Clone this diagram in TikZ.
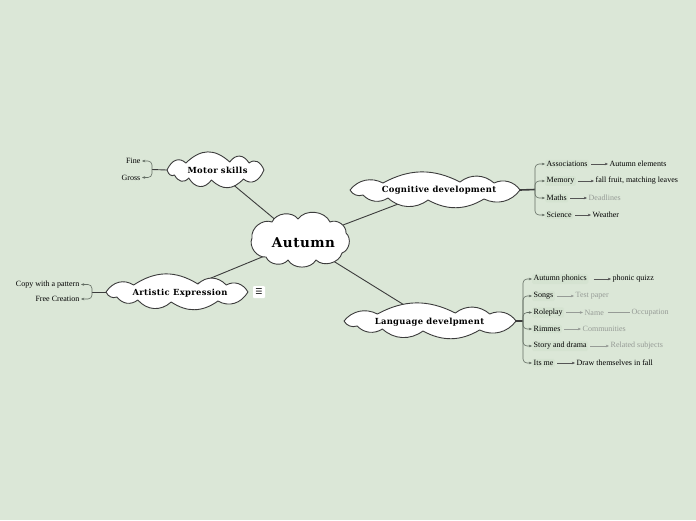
\documentclass[tikz,border=0pt]{standalone}
\usepackage{fontspec}
\setmainfont{Liberation Serif}
\newfontfamily\cloudfont[LetterSpace=4]{DejaVu Serif}
\newfontfamily\symfont{DejaVu Sans}
\usetikzlibrary{shapes.geometric,arrows.meta}
\pgfdeclarelayer{behind}
\pgfsetlayers{behind,main}
\definecolor{bg}{RGB}{219,231,215}
\definecolor{lnk}{RGB}{60,60,60}
\definecolor{arc}{RGB}{85,85,85}
\definecolor{brk}{RGB}{100,110,100}
\definecolor{faint}{RGB}{150,155,150}
\definecolor{boxc}{RGB}{213,227,209}
% elongated cloud outline around (0,0), 170 x 36
\newcommand\longcloud{%
  \path[cloudline] (-85,0) to[bend left=40] (-52,-7) to[bend left=28] (25,-8)
    to[bend left=40] (59,-7) to[bend left=40] (85,0) to[bend left=40] (49,9)
    to[bend left=30] (-7,10) to[bend left=40] (-47,8) to[bend left=40] (-72,5)
    to[bend left=40] (-85,0) -- cycle;}
\begin{document}
\begin{tikzpicture}[x=1pt,y=-1pt,
  cloudline/.style={draw=lnk, fill=white, line width=0.9pt, line join=round},
  ctext/.style={ellipse, inner sep=0pt, font=\cloudfont\bfseries\fontsize{8.4}{10}\selectfont},
  leaf/.style={font=\fontsize{8}{9.5}\selectfont, inner sep=1.5pt, text=black},
  kid/.style={leaf, fill=boxc, rounded corners=1.5pt},
  grey/.style={leaf, text=faint},
  link/.style={draw=lnk, line width=0.9pt},
  hub/.style={draw=lnk, line width=1.6pt},
  brack/.style={draw=brk, line width=0.6pt, rounded corners=4pt, -{Stealth[length=3.2pt,width=2.6pt]}},
  arr/.style={draw=arc, line width=0.45pt, -{Stealth[length=3.2pt,width=2.6pt]}},
  arrg/.style={draw=faint, line width=0.45pt, -{Stealth[length=3.2pt,width=2.6pt]}}]
\begin{pgfonlayer}{behind}
\fill[bg] (0,0) rectangle (696,520);
\end{pgfonlayer}
\useasboundingbox (0,0) rectangle (696,520);

% ---- clouds ----
\path[cloudline] (252,238) to[bend left=60] (272,222) to[bend left=60] (298,219)
  to[bend left=60] (330,222) to[bend left=60] (346,233) to[bend left=60] (342,253)
  to[bend left=60] (316,260) to[bend left=60] (288,260) to[bend left=60] (266,257)
  to[bend left=60] (252,238) -- cycle;
\node[ctext, minimum width=96pt, minimum height=50pt, font=\cloudfont\bfseries\fontsize{13.5}{15}\selectfont] (aut) at (301,241) {};
\node[font=\cloudfont\bfseries\fontsize{13.5}{15}\selectfont, inner sep=0pt] (autlabel) at (303.5,243) {Autumn};

\begin{scope}[shift={(215.5,170)}, xscale=0.57]\longcloud\end{scope}
\node[ctext, minimum width=97pt, minimum height=36pt] (mot) at (215.5,170) {};
\node[ctext] (motlabel) at (217.5,170.5) {Motor skills};

\begin{scope}[shift={(435,190)}]\longcloud\end{scope}
\node[ctext, minimum width=170pt, minimum height=36pt] (cog) at (435,190) {};
\node[ctext] (coglabel) at (439,190.5) {Cognitive development};

\begin{scope}[shift={(430,321)}, xscale=1.012]\longcloud\end{scope}
\node[ctext, minimum width=172pt, minimum height=36pt] (lan) at (430,321) {};
\node[ctext] (lanlabel) at (429.5,322) {Language develpment};

\begin{scope}[shift={(177,292)}, xscale=0.835]\longcloud\end{scope}
\node[ctext, minimum width=142pt, minimum height=36pt] (art) at (177,292) {};
\node[ctext] (artlabel) at (180,293) {Artistic Expression};

\node[fill=white, rounded corners=1pt, minimum size=12pt, inner sep=0pt, font=\symfont\fontsize{8}{8}\selectfont] (menu) at (259,292) {☰};

% ---- main links (behind the clouds) ----
\begin{pgfonlayer}{behind}
\draw[link] (aut.center) -- (mot.center);
\draw[link] (aut.center) -- (cog.center);
\draw[link] (aut.center) -- (lan.center);
\draw[link] (aut.center) -- (art.center);
\end{pgfonlayer}

% ---- Motor skills ----
\coordinate (mh) at (152,169.5);
\node[leaf, anchor=east] (fine) at (142,161) {Fine};
\node[leaf, anchor=east] (gross) at (142,177.5) {Gross};
\draw[link] (mot.west) -- (mh);
\draw[brack] (mh) |- (fine.east);
\draw[brack] (mh) |- (gross.east);

% ---- Artistic ----
\coordinate (ah) at (92,292);
\node[leaf, anchor=east] (copy) at (81,284.5) {Copy with a pattern};
\node[leaf, anchor=east] (free) at (81,299) {Free Creation};
\draw[link] (art.west) -- (ah);
\draw[brack] (ah) |- (copy.east);
\draw[brack] (ah) |- (free.east);

% ---- Cognitive ----
\coordinate (ch) at (535,189.5);
\draw[hub] (cog.east) -- (ch);
\node[kid, anchor=west] (assoc) at (545,164) {Associations};
\node[kid, anchor=west] (mem) at (545,181) {Memory};
\node[kid, anchor=west] (maths) at (545,198) {Maths};
\node[kid, anchor=west] (sci) at (545,215) {Science};
\foreach \c in {assoc,mem,maths,sci} \draw[brack] (ch) |- (\c.west);
\node[leaf, anchor=west] (autel) at (608,164) {Autumn elements};
\node[leaf, anchor=west] (fall) at (594,181) {fall fruit, matching leaves};
\node[grey, anchor=west] (dead) at (587,198) {Deadlines};
\node[leaf, anchor=west] (weat) at (591,215) {Weather};
\draw[arr] ([xshift=2pt]assoc.east) -- (autel.west);
\draw[arr] ([xshift=2pt]mem.east) -- (fall.west);
\draw[arr] ([xshift=2pt]maths.east) -- (dead.west);
\draw[arr] ([xshift=2pt]sci.east) -- (weat.west);

% ---- Language ----
\coordinate (lh) at (523,321);
\draw[hub] (lan.east) -- (lh);
\node[kid, anchor=west] (phon) at (532,279) {Autumn phonics};
\node[kid, anchor=west] (songs) at (532,296) {Songs};
\node[kid, anchor=west] (role) at (532,312.5) {Roleplay};
\node[kid, anchor=west] (rim) at (532,329) {Rimmes};
\node[kid, anchor=west] (story) at (532,346) {Story and drama};
\node[kid, anchor=west] (its) at (532,363) {Its me};
\foreach \c in {phon,songs,role,rim,story,its} \draw[brack] (lh) |- (\c.west);
\node[leaf, anchor=west] (quiz) at (611,279) {phonic quizz};
\node[grey, anchor=west] (test) at (574,296) {Test paper};
\node[grey, anchor=west] (name) at (583,312.5) {Name};
\node[grey, anchor=west] (occ) at (630,312.5) {Occupation};
\node[grey, anchor=west] (comm) at (581,329) {Communities};
\node[grey, anchor=west] (rel) at (609,346) {Related subjects};
\node[leaf, anchor=west] (draw) at (575,363) {Draw themselves in fall};
\draw[arr] ([xshift=5pt]phon.east) -- (quiz.west);
\draw[arrg] ([xshift=2pt]songs.east) -- (test.west);
\draw[arrg] ([xshift=2pt]role.east) -- (name.west);
\draw[draw=faint, line width=0.45pt] ([xshift=2pt]name.east) -- (occ.west);
\draw[arrg] ([xshift=2pt]rim.east) -- (comm.west);
\draw[arrg] ([xshift=2pt]story.east) -- (rel.west);
\draw[arr] ([xshift=2pt]its.east) -- (draw.west);
\end{tikzpicture}
\end{document}
